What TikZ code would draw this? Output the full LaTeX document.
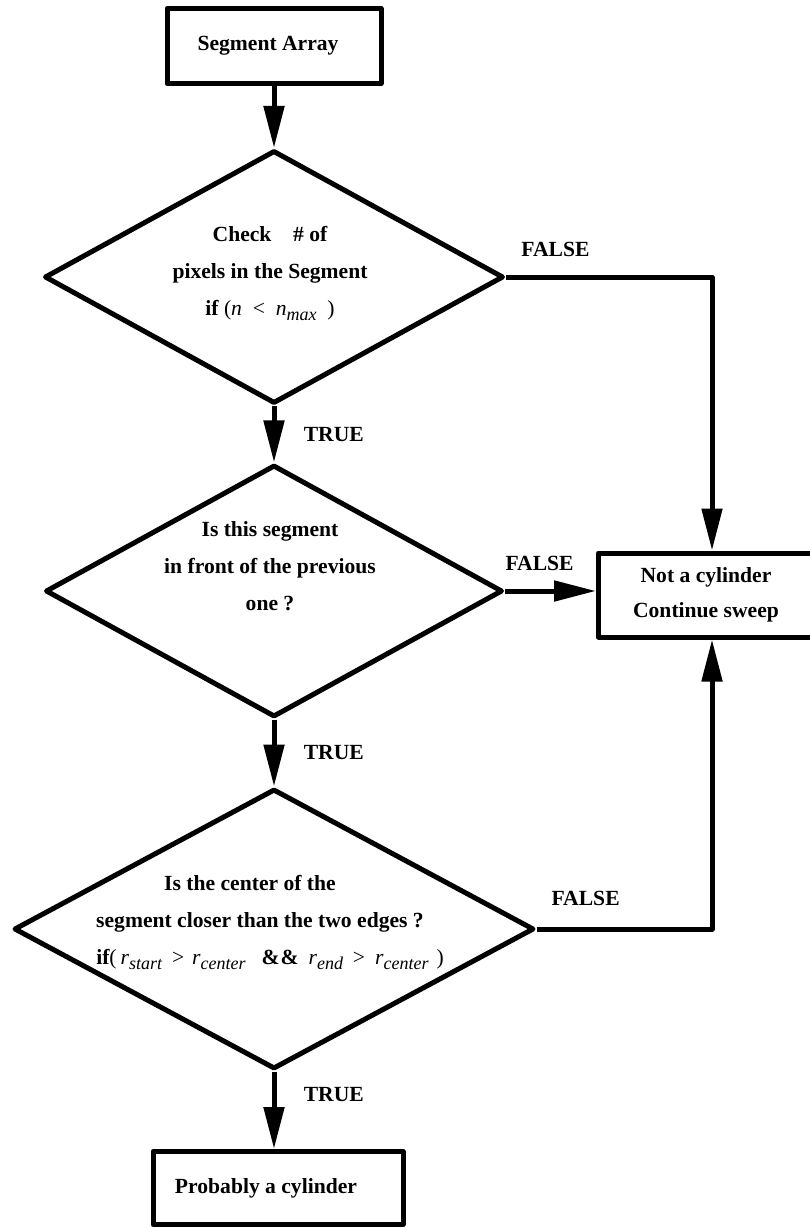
\documentclass[tikz,border=0pt]{standalone}
\usepackage{fontspec}
\setmainfont{Liberation Serif}
\usetikzlibrary{shapes.geometric,arrows.meta}

\newcommand{\mvar}[1]{{\mdseries\itshape #1}}
\newcommand{\lowsub}[1]{\raisebox{-5pt}{\fontsize{18}{18}\selectfont\mdseries\itshape #1}}

\begin{document}
\begin{tikzpicture}[x=1pt,y=-1pt,line width=5pt,line join=round,
    font=\fontsize{21.6}{37}\selectfont\bfseries,
    flow/.style={-{Triangle[length=42pt,width=20pt]}},
    tag/.style={font=\fontsize{21.6}{24}\selectfont\bfseries}]
  \useasboundingbox (0,0) rectangle (810,1228);

  \begin{scope}[every node/.style={draw, inner sep=0pt}]
    \node[minimum width=214pt,minimum height=75pt] (array) at (274,46) {Segment Array\hspace*{12pt}};
    \node[diamond,minimum width=459pt,minimum height=253pt] (check) at (274,277) {};
    \node[diamond,minimum width=457pt,minimum height=252pt] (front) at (274,591) {};
    \node[diamond,minimum width=520pt,minimum height=280pt] (center) at (274,929) {};
    \node[minimum width=215pt,minimum height=84pt,align=center] (notcyl) at (706,595) {Not a cylinder\\[-2pt]Continue sweep};
    \node[minimum width=250pt,minimum height=73pt] (probably) at (278,1188) {Probably a cylinder\hspace*{24pt}};
  \end{scope}

  % texts in the diamonds
  \begin{scope}[every node/.style={align=center, inner sep=0pt}]
    \node (checktxt) at (270,273) {Check\quad\# of\\pixels in the Segment\\if \mdseries(\mvar{n}\ \ <\ \ \mvar{n}\lowsub{max}\ \ )};
    \node (fronttxt) at (270,566) {Is this segment\\in front of the previous\\one ?};
    \node (centertxt) at (260,922) {Is the center of the\hspace*{20pt}\\segment closer than the two edges ?\\
      \hspace*{20pt}if{\mdseries(\hspace{4pt}\mvar{r}\lowsub{start}\hspace{10pt}>\hspace{8pt}\mvar{r}\lowsub{center}\hspace{16pt}}\&\hspace{1pt}\&\hspace{10pt}\mvar{r}\lowsub{end}\hspace{10pt}{\mdseries >}\hspace{10pt}\mvar{r}\lowsub{center}\hspace{8pt}{\mdseries )}};
  \end{scope}

  \coordinate (fx) at (712,0);

  \begin{scope}[every node/.style={tag}]
    \draw[flow] (array) -- (check);
    \draw[flow] (check) -- node[right,xshift=24pt] {TRUE} (front);
    \draw[flow] (front) -- node[right,xshift=24pt] {TRUE} (center);
    \draw[flow] (center.south) -- node[right,xshift=24pt,pos=0.3] {TRUE} (center.south |- probably.north);
    \draw[flow] (check.east) -| node[above,yshift=14pt,pos=0.12] {FALSE} (fx |- notcyl.north);
    \draw[flow] (front.east) -- node[above,yshift=14pt,pos=0.38] {FALSE} (front.east -| notcyl.west);
    \draw[flow] (center.east) -| node[above,yshift=17pt,pos=0.14] {FALSE} (fx |- notcyl.south);
  \end{scope}
\end{tikzpicture}
\end{document}
